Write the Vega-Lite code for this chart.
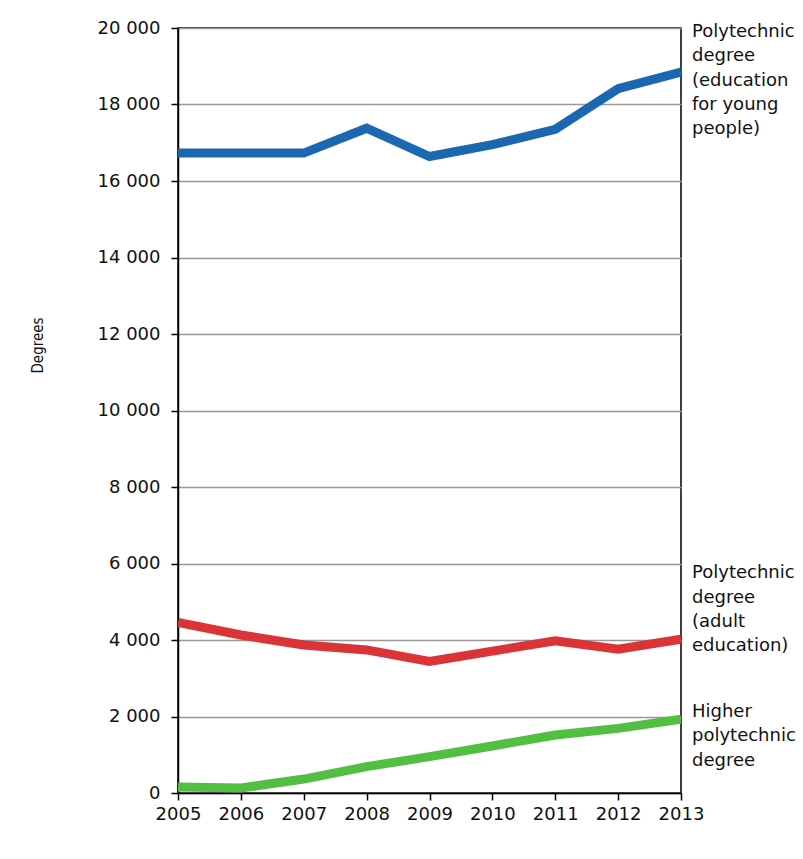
{
  "$schema": "https://vega.github.io/schema/vega-lite/v6.json",
  "autosize": {"type": "none"},
  "width": 503,
  "height": 765,
  "padding": {"left": 178, "top": 28, "right": 122, "bottom": 66},
  "background": "white",
  "config": {
    "view": {"stroke": "#000", "strokeWidth": 1.5},
    "font": "DejaVu Sans"
  },
  "datasets": {
    "main": [
      {"year": 2005, "series": "young", "value": 16730},
      {"year": 2006, "series": "young", "value": 16730},
      {"year": 2007, "series": "young", "value": 16730},
      {"year": 2008, "series": "young", "value": 17380},
      {"year": 2009, "series": "young", "value": 16640},
      {"year": 2010, "series": "young", "value": 16950},
      {"year": 2011, "series": "young", "value": 17350},
      {"year": 2012, "series": "young", "value": 18415},
      {"year": 2013, "series": "young", "value": 18845},
      {"year": 2005, "series": "adult", "value": 4460},
      {"year": 2006, "series": "adult", "value": 4130},
      {"year": 2007, "series": "adult", "value": 3870},
      {"year": 2008, "series": "adult", "value": 3740},
      {"year": 2009, "series": "adult", "value": 3440},
      {"year": 2010, "series": "adult", "value": 3710},
      {"year": 2011, "series": "adult", "value": 3980},
      {"year": 2012, "series": "adult", "value": 3760},
      {"year": 2013, "series": "adult", "value": 4020},
      {"year": 2005, "series": "higher", "value": 156},
      {"year": 2006, "series": "higher", "value": 130},
      {"year": 2007, "series": "higher", "value": 364},
      {"year": 2008, "series": "higher", "value": 690},
      {"year": 2009, "series": "higher", "value": 950},
      {"year": 2010, "series": "higher", "value": 1230},
      {"year": 2011, "series": "higher", "value": 1515},
      {"year": 2012, "series": "higher", "value": 1690},
      {"year": 2013, "series": "higher", "value": 1930}
    ],
    "labels": [
      {"year": 2013, "series": "young", "value": 18845, "label": ["Polytechnic", "degree", "(education", "for young", "people)"]},
      {"year": 2013, "series": "adult", "value": 4020, "label": ["Polytechnic", "degree", "(adult", "education)"]},
      {"year": 2013, "series": "higher", "value": 1930, "label": ["Higher", "polytechnic", "degree"]}
    ]
  },
  "encoding": {
    "x": {
      "field": "year", "type": "quantitative",
      "scale": {"domain": [2005, 2013], "nice": false, "zero": false},
      "axis": {
        "title": null, "values": [2005, 2006, 2007, 2008, 2009, 2010, 2011, 2012, 2013],
        "format": "d", "grid": false, "domainColor": "#000", "domainWidth": 1.5,
        "tickColor": "#000", "tickSize": 7, "tickWidth": 1.5,
        "labelFont": "DejaVu Sans", "labelFontSize": 18, "labelColor": "#111",
        "labelPadding": 5, "labelFlush": false, "labelOverlap": false
      }
    },
    "y": {
      "field": "value", "type": "quantitative",
      "scale": {"domain": [0, 20000], "nice": false},
      "axis": {
        "title": "Degrees", "titleFont": "DejaVu Sans Condensed, DejaVu Sans", "titleFontSize": 15,
        "titleFontWeight": "normal", "titleColor": "#111", "titleX": -141, "titleY": 317,
        "titleAlign": "center", "titleBaseline": "middle",
        "values": [0, 2000, 4000, 6000, 8000, 10000, 12000, 14000, 16000, 18000, 20000],
        "labelExpr": "replace(format(datum.value, ','), ',', ' ')",
        "grid": true, "gridColor": "#999", "gridWidth": 1.5,
        "domainColor": "#000", "domainWidth": 1.5,
        "tickColor": "#000", "tickSize": 7, "tickWidth": 1.5,
        "labelFont": "DejaVu Sans", "labelFontSize": 18, "labelColor": "#111",
        "labelPadding": 11
      }
    }
  },
  "layer": [
    {
      "data": {"name": "main"},
      "mark": {"type": "line", "strokeWidth": 9, "strokeJoin": "miter", "strokeCap": "butt", "clip": true},
      "encoding": {
        "color": {
          "field": "series", "type": "nominal", "legend": null,
          "scale": {"domain": ["young", "adult", "higher"], "range": ["#1c67b2", "#db3437", "#52bf42"]}
        }
      }
    },
    {
      "data": {"name": "labels"},
      "transform": [{"filter": "datum.series === 'young'"}],
      "mark": {"type": "text", "align": "left", "baseline": "alphabetic", "dx": 11, "dy": -35, "fontSize": 18, "lineHeight": 24.3, "color": "#111", "font": "DejaVu Sans"},
      "encoding": {"text": {"field": "label"}}
    },
    {
      "data": {"name": "labels"},
      "transform": [{"filter": "datum.series === 'adult'"}],
      "mark": {"type": "text", "align": "left", "baseline": "alphabetic", "dx": 11, "dy": -61, "fontSize": 18, "lineHeight": 24.3, "color": "#111", "font": "DejaVu Sans"},
      "encoding": {"text": {"field": "label"}}
    },
    {
      "data": {"name": "labels"},
      "transform": [{"filter": "datum.series === 'higher'"}],
      "mark": {"type": "text", "align": "left", "baseline": "alphabetic", "dx": 11, "dy": -2, "fontSize": 18, "lineHeight": 24.3, "color": "#111", "font": "DejaVu Sans"},
      "encoding": {"text": {"field": "label"}}
    }
  ]
}
